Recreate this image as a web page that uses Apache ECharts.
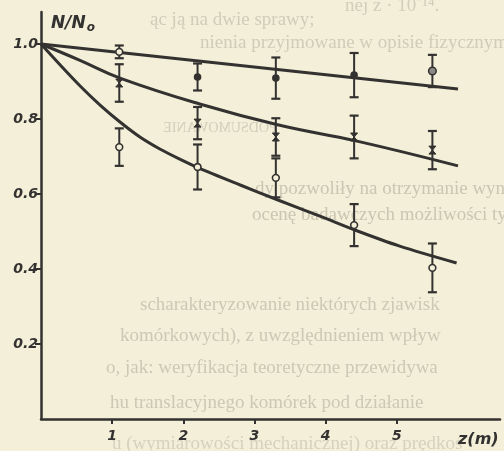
<!DOCTYPE html>
<html>
<head>
<meta charset="utf-8">
<script src="https://cdn.jsdelivr.net/npm/echarts@6/dist/echarts.min.js"></script>
<style>
  html, body { margin: 0; padding: 0; background: #f4efd9; }
  #chart { width: 504px; height: 451px; }
</style>
</head>
<body>
<div id="chart"></div>
<script>
// Axis ticks
const zTicks = [1, 2, 3, 4, 5];
const yTicks = [0.2, 0.4, 0.6, 0.8, 1.0];

// Measured points: position z (m), mean N/N0 and error half-width
const zPoints = [1.1, 2.2, 3.3, 4.4, 5.5];
const topMean = [0.979, 0.912, 0.909, 0.917, 0.928];
const topErr  = [0.017, 0.036, 0.055, 0.059, 0.043];
const midMean = [0.896, 0.789, 0.752, 0.752, 0.717];
const midErr  = [0.050, 0.043, 0.050, 0.057, 0.051];
const lowMean = [0.725, 0.672, 0.643, 0.517, 0.403];
const lowErr  = [0.050, 0.060, 0.052, 0.056, 0.065];

// Fitted curves
const topCurveZ = [0, 5.86];
const topCurveV = [1.0, 0.880];
const midCurveZ = [0, 0.54, 1.11, 2.23, 3.34, 4.44, 5.86];
const midCurveV = [1.0, 0.957, 0.909, 0.840, 0.784, 0.741, 0.675];
const lowCurveZ = [0, 0.27, 0.55, 0.83, 1.11, 1.39, 1.67, 1.95, 2.22, 2.80, 3.33, 3.92, 4.41, 5.04, 5.84];
const lowCurveV = [1.0, 0.944, 0.888, 0.837, 0.792, 0.752, 0.720, 0.693, 0.669, 0.624, 0.584, 0.541, 0.504, 0.461, 0.416];

const INK = '#333230';
const PAPER = '#f4efd9';
const LABEL_FONT = { fontStyle: 'italic', fontWeight: 'bold', fontFamily: 'DejaVu Sans', color: INK };

const zip = (a, b) => a.map((v, i) => [v, b[i]]);
const withErr = (m, e) => zPoints.map((z, i) => [z, m[i], e[i]]);

// Marker drawn at the mean of each error bar
function marker(kind, cx, cy) {
  if (kind === 'dot') {
    return [{ type: 'circle', shape: { cx, cy, r: 3.8 }, style: { fill: INK } }];
  }
  if (kind === 'cross') {
    return [{ type: 'polygon',
      shape: { points: [[cx - 3.5, cy - 4], [cx + 3.5, cy - 4], [cx - 3.5, cy + 4], [cx + 3.5, cy + 4]] },
      style: { fill: INK, stroke: INK, lineWidth: 1 } }];
  }
  if (kind === 'ringdot') {
    return [{ type: 'circle', shape: { cx, cy, r: 3.8 }, style: { fill: '#8c8a84', stroke: INK, lineWidth: 1.5 } }];
  }
  return [{ type: 'circle', shape: { cx, cy, r: 3.4 }, style: { fill: PAPER, stroke: INK, lineWidth: 1.6 } }];
}

function errorBars(kindFor) {
  return function (params, api) {
    const z = api.value(0), m = api.value(1), e = api.value(2);
    const t = api.coord([z, m + e]);
    const b = api.coord([z, m - e]);
    const c = api.coord([z, m]);
    const hw = 4.5;
    const kids = [
      { type: 'line', shape: { x1: c[0], y1: t[1], x2: c[0], y2: b[1] }, style: { stroke: INK, lineWidth: 2 } },
      { type: 'line', shape: { x1: c[0] - hw, y1: t[1], x2: c[0] + hw, y2: t[1] }, style: { stroke: INK, lineWidth: 2.2 } },
      { type: 'line', shape: { x1: c[0] - hw, y1: b[1], x2: c[0] + hw, y2: b[1] }, style: { stroke: INK, lineWidth: 2.2 } }
    ].concat(marker(kindFor(params.dataIndex), c[0], c[1]));
    return { type: 'group', children: kids };
  };
}

function curve(z, v, smooth) {
  return {
    type: 'line', data: zip(z, v), smooth: smooth, symbol: 'none', z: 2,
    lineStyle: { color: INK, width: 3 }
  };
}

function errSeries(m, e, kindFor) {
  return { type: 'custom', data: withErr(m, e), renderItem: errorBars(kindFor), z: 3, encode: { x: 0, y: 1 } };
}

// Faint lettering from the neighbouring page showing through the paper
const ghost = [
  { x: 345, y: 6, t: 'nej z · 10⁻¹⁴.', c: '#d3ceba' },
  { x: 150, y: 20, t: 'ąc ją na dwie sprawy;', c: '#d1ccb8' },
  { x: 200, y: 43, t: 'nienia przyjmowane w opisie fizycznym', c: '#d1ccb8' },
  { x: 255, y: 189, t: 'dy pozwoliły na otrzymanie wyników,', c: '#cbc6b2' },
  { x: 252, y: 215, t: 'ocenę badawczych możliwości tych metod', c: '#cbc6b2' },
  { x: 140, y: 305, t: 'scharakteryzowanie niektórych zjawisk', c: '#cdc8b4' },
  { x: 120, y: 336, t: 'komórkowych), z uwzględnieniem wpływ', c: '#cdc8b4' },
  { x: 106, y: 368, t: 'o, jak: weryfikacja teoretyczne przewidywa', c: '#cdc8b4' },
  { x: 110, y: 403, t: 'hu translacyjnego komórek pod działanie', c: '#cdc8b4' },
  { x: 112, y: 444, t: 'u (wymiarowości mechanicznej) oraz prędkoś', c: '#d6d1bd' }
];

const graphics = ghost.map(g => ({
  type: 'text', x: g.x, y: g.y, silent: true, z: -10,
  style: { text: g.t, fill: g.c, font: '19px "Liberation Serif"', textBaseline: 'middle', verticalAlign: 'middle' }
}));
graphics.push({
  type: 'text', x: 220, y: 128, scaleX: -1, silent: true, z: -10,
  style: { text: 'PODSUMOWANIE', fill: '#d3ceba', font: '14px "Liberation Serif"', textAlign: 'center', align: 'center', textBaseline: 'middle', verticalAlign: 'middle' }
});
graphics.push({
  type: 'text', x: 458, y: 440, z: 5,
  style: { text: 'z(m)', fill: INK, font: 'italic bold 16px "DejaVu Sans"', textBaseline: 'middle', verticalAlign: 'middle' }
});

const chart = echarts.init(document.getElementById('chart'), null, { renderer: 'canvas' });
chart.setOption({
  backgroundColor: PAPER,
  animation: false,
  title: {
    text: '{a|N/N}{s|o}', left: 46, top: 9,
    textStyle: {
      rich: {
        a: { fontStyle: 'italic', fontWeight: 'bold', fontFamily: 'DejaVu Sans', fontSize: 17, color: INK },
        s: { fontStyle: 'italic', fontWeight: 'bold', fontFamily: 'DejaVu Sans', fontSize: 12, color: INK, padding: [8, 0, 0, 1] }
      }
    }
  },
  grid: { left: 41, right: 4, top: 12, bottom: 32, containLabel: false },
  xAxis: {
    type: 'value', min: 0, max: 6.45,
    splitLine: { show: false },
    axisLine: { lineStyle: { color: INK, width: 2.5 } },
    axisTick: { show: true, length: 5, lineStyle: { color: INK, width: 2 }, customValues: zTicks },
    axisLabel: Object.assign({ fontSize: 14, margin: 10, customValues: zTicks, formatter: v => String(v) }, LABEL_FONT)
  },
  yAxis: {
    type: 'value', min: 0, max: 1.0853,
    splitLine: { show: false },
    axisLine: { lineStyle: { color: INK, width: 2.5 } },
    axisTick: { show: true, length: 6, lineStyle: { color: INK, width: 2 }, customValues: yTicks },
    axisLabel: Object.assign({ fontSize: 14, margin: 3, customValues: yTicks, formatter: v => v.toFixed(1) }, LABEL_FONT)
  },
  graphic: graphics,
  series: [
    curve(topCurveZ, topCurveV, 0.45),
    curve(midCurveZ, midCurveV, 0.45),
    curve(lowCurveZ, lowCurveV, 0.3),
    errSeries(topMean, topErr, i => (i === 0 ? 'ring' : i === 4 ? 'ringdot' : 'dot')),
    errSeries(midMean, midErr, () => 'cross'),
    errSeries(lowMean, lowErr, () => 'ring')
  ]
});
</script>
</body>
</html>
